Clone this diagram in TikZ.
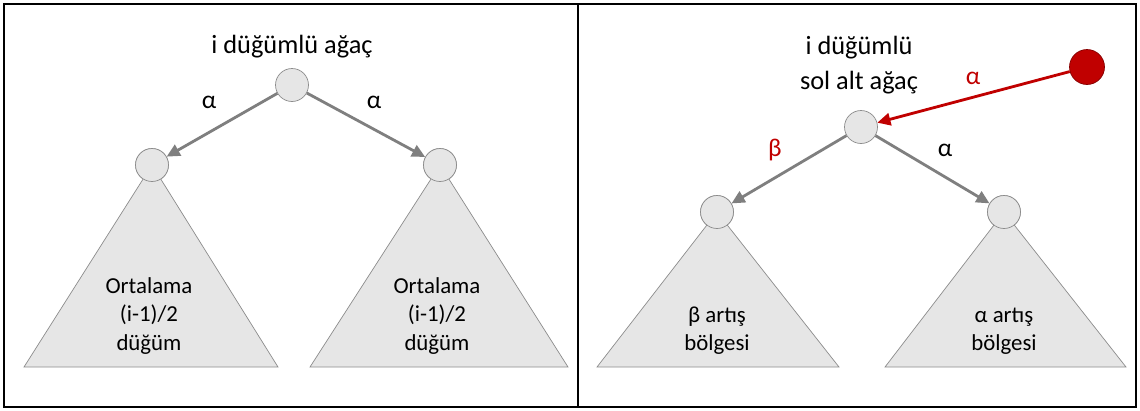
\documentclass[tikz,border=0pt]{standalone}
\usepackage{fontspec}
\setmainfont{Carlito}
\usepackage{xcolor}
\usepackage{tikz}
\usetikzlibrary{arrows.meta, positioning}
\definecolor{nodegray}{HTML}{E6E6E6}
\definecolor{linegray}{HTML}{8C8C8C}
\definecolor{arrowgray}{HTML}{7F7F7F}
\definecolor{insred}{HTML}{C00000}
\tikzset{
    treenode/.style={circle, draw=linegray, fill=nodegray, minimum size=0.66cm, inner sep=0pt},
    newnode/.style={circle, draw=insred!70!black, fill=insred, minimum size=0.7cm, inner sep=0pt},
    subtree/.style={draw=linegray, fill=nodegray},
    branch/.style={-{Triangle[length=7.5pt, width=7pt]}, line width=1.6pt, draw=arrowgray},
    redbranch/.style={branch, draw=insred},
    title/.style={font=\fontsize{15}{20}\selectfont, align=center, inner sep=0pt},
    weight/.style={font=\fontsize{14.5}{16}\selectfont, inner sep=0pt},
    inner/.style={font=\fontsize{13}{16}\selectfont, align=center, inner sep=0pt},
    panel/.style={draw=black, line width=1.5pt}
}

\begin{document}
\begin{tikzpicture}[x=0.02cm, y=-0.02cm]
    \useasboundingbox (0,0) rectangle (1140,410);
    % frames
    \draw[panel] (4,4) rectangle (1136,407);
    \draw[panel] (578,4) -- (578,407);

    % whole tree
    \node[title] (titleL) at (292,47) {i düğümlü ağaç};
    \node[treenode] (rootL) at (292,85) {};
    \node[treenode] (leftL) at (152,165) {};
    \node[treenode] (rightL) at (440,165) {};
    \draw[subtree] (leftL.center) -- (278,367) -- (24,367) -- cycle;
    \draw[subtree] (rightL.center) -- (568,367) -- (310,367) -- cycle;
    \node[treenode] at (leftL) {};
    \node[treenode] at (rightL) {};
    \node[inner] (textLL) at (149,316) {Ortalama\\(i-1)/2\\düğüm};
    \node[inner] (textLR) at (437,316) {Ortalama\\(i-1)/2\\düğüm};
    \draw[branch] (rootL) -- (leftL);
    \draw[branch] (rootL) -- (rightL);
    \node[weight] at (209,102) {α};
    \node[weight] at (374,102) {α};

    % left subtree with the new node
    \node[title] (titleR) at (859,65) {i düğümlü\\sol alt ağaç};
    \node[treenode] (rootR) at (861,127) {};
    \node[newnode] (newR) at (1087,67) {};
    \node[treenode] (leftR) at (717,212) {};
    \node[treenode] (rightR) at (1004,212) {};
    \draw[subtree] (leftR.center) -- (839,367) -- (597,367) -- cycle;
    \draw[subtree] (rightR.center) -- (1126,367) -- (885,367) -- cycle;
    \node[treenode] at (leftR) {};
    \node[treenode] at (rightR) {};
    \node[inner] (textRL) at (717,331) {β artış\\bölgesi};
    \node[inner] (textRR) at (1004,331) {α artış\\bölgesi};
    \draw[redbranch] (newR) -- (rootR);
    \draw[branch] (rootR) -- (leftR);
    \draw[branch] (rootR) -- (rightR);
    \node[weight, text=insred] at (973,78) {α};
    \node[weight, text=insred] at (775,150) {β};
    \node[weight] at (945,150) {α};
\end{tikzpicture}
\end{document}
